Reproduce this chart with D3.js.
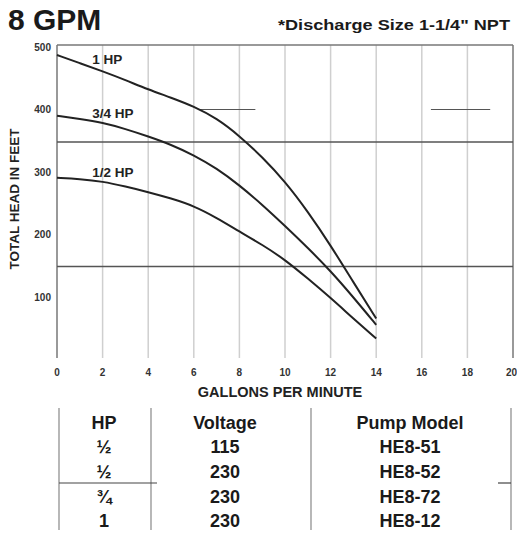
<!DOCTYPE html>
<html>
<head>
<meta charset="utf-8">
<script src="https://cdn.jsdelivr.net/npm/d3@7"></script>
<style>
  body { margin: 0; background: #fff; }
  svg { display: block; font-family: "Liberation Sans", Arial, sans-serif; font-weight: bold; }
</style>
</head>
<body>
<svg id="chart" width="517" height="533"></svg>
<script>
// flow in gallons per minute
var gpm = [0, 1, 2, 3, 4, 5, 6, 7, 8, 9, 10, 11, 12, 13, 14];

// total head in feet, one list per motor size
var head1hp = [484, 471, 458, 444, 429, 416, 402, 383, 355, 321, 282, 234, 180, 121, 63];
var head34hp = [387, 382, 376, 366, 354, 341, 324, 303, 276, 245, 211, 176, 139, 97, 53];
var head12hp = [288, 286, 282, 274, 265, 255, 243, 224, 202, 181, 157, 127, 96, 63, 31];

var seriesNames = ['1 HP', '3/4 HP', '1/2 HP'];
var xTicks = [0, 2, 4, 6, 8, 10, 12, 14, 16, 18, 20];
var yTicks = [100, 200, 300, 400, 500];

// stray rule lines that show up on the printed sheet
var ruleHeads = [345, 146];
var ruleStubs = [[6.2, 8.7, 397], [16.4, 19, 397]];

// table rows
var tableHeader = ['HP', 'Voltage', 'Pump Model'];
var tableHp = ['\u00bd', '\u00bd', '\u00be', '1'];
var tableVolts = ['115', '230', '230', '230'];
var tableModels = ['HE8-51', 'HE8-52', 'HE8-72', 'HE8-12'];

var svg = d3.select('#chart');

var x = d3.scaleLinear().domain([0, 20]).range([57, 513]);
var y = d3.scaleLinear().domain([0, 500]).range([358, 45]);

// titles
svg.append('text')
    .attr('x', 8).attr('y', 30)
    .style('font-size', '30px')
    .attr('fill', '#1a1a1a')
    .text('8 GPM');

svg.append('text')
    .attr('x', 510).attr('y', 30)
    .attr('text-anchor', 'end')
    .attr('textLength', 232)
    .attr('lengthAdjust', 'spacingAndGlyphs')
    .style('font-size', '15px')
    .attr('fill', '#1a1a1a')
    .text('*Discharge Size 1-1/4"  NPT');

// vertical grid
svg.append('g')
    .selectAll('line')
    .data(xTicks.slice(1, -1))
    .enter().append('line')
    .attr('x1', function (d) { return x(d); })
    .attr('x2', function (d) { return x(d); })
    .attr('y1', y(500)).attr('y2', y(0))
    .attr('stroke', '#cfcfcf')
    .attr('stroke-width', 1.5);

// frame: left, right, top
svg.append('line')
    .attr('x1', x(0)).attr('x2', x(0)).attr('y1', y(500)).attr('y2', y(0))
    .attr('stroke', '#777').attr('stroke-width', 1.5);
svg.append('line')
    .attr('x1', x(20)).attr('x2', x(20)).attr('y1', y(500)).attr('y2', y(0))
    .attr('stroke', '#777').attr('stroke-width', 1.5);
svg.append('line')
    .attr('x1', x(0)).attr('x2', x(20)).attr('y1', y(500)).attr('y2', y(500))
    .attr('stroke', '#777').attr('stroke-width', 1.5);

// rule lines
svg.append('g')
    .selectAll('line')
    .data(ruleHeads)
    .enter().append('line')
    .attr('x1', x(0)).attr('x2', x(20))
    .attr('y1', function (d) { return y(d); })
    .attr('y2', function (d) { return y(d); })
    .attr('stroke', '#555')
    .attr('stroke-width', 1.5);

svg.append('g')
    .selectAll('line')
    .data(ruleStubs)
    .enter().append('line')
    .attr('x1', function (d) { return x(d[0]); })
    .attr('x2', function (d) { return x(d[1]); })
    .attr('y1', function (d) { return y(d[2]); })
    .attr('y2', function (d) { return y(d[2]); })
    .attr('stroke', '#555')
    .attr('stroke-width', 1.2);

// tick labels
svg.append('g')
    .selectAll('text')
    .data(yTicks)
    .enter().append('text')
    .attr('x', 51)
    .attr('y', function (d) { return y(d) + 2; })
    .attr('dy', '0.35em')
    .attr('text-anchor', 'end')
    .style('font-size', '10px')
    .attr('fill', '#333')
    .text(function (d) { return d; });

// last label would hang off the page, so pin it to the edge
svg.append('g')
    .selectAll('text')
    .data(xTicks)
    .enter().append('text')
    .attr('x', function (d, i) { return i === xTicks.length - 1 ? 517 : x(d); })
    .attr('y', 376)
    .attr('text-anchor', function (d, i) { return i === xTicks.length - 1 ? 'end' : 'middle'; })
    .style('font-size', '10px')
    .attr('fill', '#333')
    .text(function (d) { return d; });

// axis titles
svg.append('text')
    .attr('x', 280).attr('y', 397)
    .attr('text-anchor', 'middle')
    .style('font-size', '14.5px')
    .attr('fill', '#222')
    .text('GALLONS PER MINUTE');

svg.append('text')
    .attr('transform', 'translate(19,199) rotate(-90)')
    .attr('text-anchor', 'middle')
    .style('font-size', '13.5px')
    .attr('fill', '#222')
    .text('TOTAL HEAD IN FEET');

// pump curves (basis smooths out reading noise)
var series = [head1hp, head34hp, head12hp];
var line = d3.line()
    .x(function (d, i) { return x(gpm[i]); })
    .y(function (d) { return y(d); })
    .curve(d3.curveBasis);

svg.append('g')
    .selectAll('path')
    .data(series)
    .enter().append('path')
    .attr('d', line)
    .attr('fill', 'none')
    .attr('stroke', '#222')
    .attr('stroke-width', 2);

// curve labels sit just above each curve near 1.5 gpm
svg.append('g')
    .selectAll('text')
    .data(series)
    .enter().append('text')
    .attr('x', x(1.55))
    .attr('y', function (d) {
        var v = (d[1] + d[2]) / 2;
        return y(v) - 3;
    })
    .style('font-size', '13.5px')
    .attr('fill', '#222')
    .text(function (d, i) { return seriesNames[i]; });

// model table
var colX = [104, 225, 410];
var rowY = [429, 453, 478, 503, 527];

var tbl = svg.append('g').attr('fill', '#1a1a1a').style('font-size', '18px');

[59, 151, 311, 511].forEach(function (lx) {
    tbl.append('line')
        .attr('x1', lx).attr('x2', lx).attr('y1', 408).attr('y2', 530)
        .attr('stroke', '#888').attr('stroke-width', 1.2);
});
tbl.append('line')
    .attr('x1', 59).attr('x2', 157).attr('y1', 483).attr('y2', 483)
    .attr('stroke', '#444').attr('stroke-width', 1.2);
tbl.append('line')
    .attr('x1', 498).attr('x2', 511).attr('y1', 483).attr('y2', 483)
    .attr('stroke', '#444').attr('stroke-width', 1.2);

tbl.selectAll('text.head')
    .data(tableHeader)
    .enter().append('text')
    .attr('class', 'head')
    .attr('x', function (d, i) { return colX[i]; })
    .attr('y', rowY[0])
    .attr('text-anchor', 'middle')
    .text(function (d) { return d; });

var rows = tableHp.map(function (hp, i) {
    return [hp, tableVolts[i], tableModels[i]];
});

rows.forEach(function (r, ri) {
    tbl.selectAll('text.r' + ri)
        .data(r)
        .enter().append('text')
        .attr('class', 'r' + ri)
        .attr('x', function (d, i) { return colX[i]; })
        .attr('y', rowY[ri + 1])
        .attr('text-anchor', 'middle')
        .text(function (d) { return d; });
});
</script>
</body>
</html>
